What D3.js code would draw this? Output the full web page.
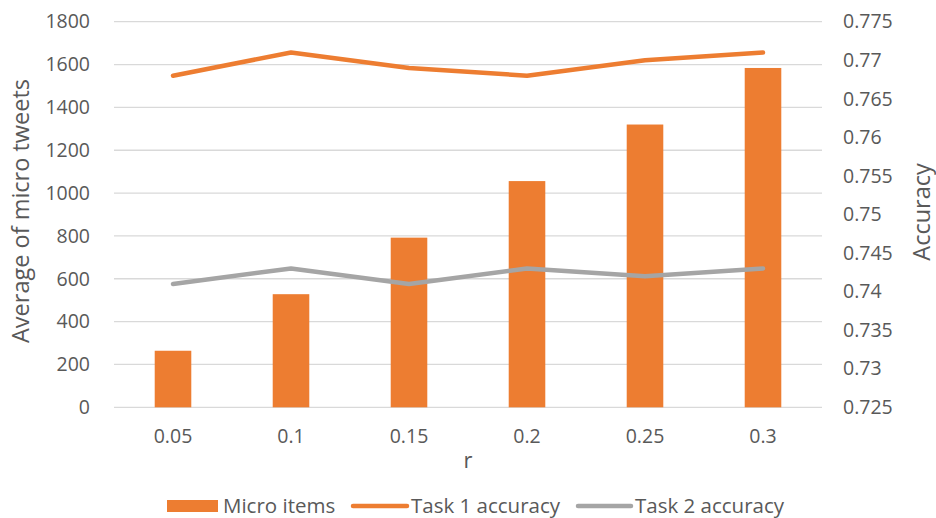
<!DOCTYPE html>
<html>
<head>
<meta charset="utf-8">
<script src="https://cdn.jsdelivr.net/npm/d3@7/dist/d3.min.js"></script>
<style>
  html, body { margin: 0; padding: 0; background: #ffffff; }
  svg text { font-family: "Open Sans", "Noto Sans", sans-serif; fill: #595959; }
</style>
</head>
<body>
<svg id="chart" width="936" height="518"></svg>
<script>
// r values on the category axis
const categories = ["0.05", "0.1", "0.15", "0.2", "0.25", "0.3"];
// Average number of micro items per r
const microItems = [264, 528, 792, 1056, 1320, 1584];
// Accuracy for the two tasks
const task1Accuracy = [0.768, 0.771, 0.769, 0.768, 0.770, 0.771];
const task2Accuracy = [0.741, 0.743, 0.741, 0.743, 0.742, 0.743];
// Axis ticks
const leftTicks = [0, 200, 400, 600, 800, 1000, 1200, 1400, 1600, 1800];
const rightTicks = [0.725, 0.73, 0.735, 0.74, 0.745, 0.75, 0.755, 0.76, 0.765, 0.77, 0.775];

const ORANGE = "#ED7D31";
const GRAY = "#A5A5A5";
const GRID = "#D9D9D9";
const TEXT = "#595959";

const svg = d3.select("#chart");
const plot = { left: 114, right: 822, top: 21.7, bottom: 407.3 };

const x = d3.scaleBand().domain(categories).range([plot.left, plot.right]).paddingInner(0.69).paddingOuter(0.345);
const yL = d3.scaleLinear().domain([0, 1800]).range([plot.bottom, plot.top]);
const yR = d3.scaleLinear().domain([0.725, 0.775]).range([plot.bottom, plot.top]);
const xc = d => x(d) + x.bandwidth() / 2;

// Horizontal gridlines follow the left axis
svg.append("g").selectAll("line").data(leftTicks).join("line")
  .attr("x1", plot.left).attr("x2", plot.right)
  .attr("y1", d => yL(d)).attr("y2", d => yL(d))
  .attr("stroke", GRID).attr("stroke-width", 1.3);

// Left axis
const leftAxis = svg.append("g").attr("transform", `translate(${plot.left},0)`)
  .call(d3.axisLeft(yL).tickValues(leftTicks).tickSize(0).tickPadding(24).tickFormat(d3.format("d")));
leftAxis.select(".domain").remove();
leftAxis.selectAll("text").style("font-size", "19.5px").attr("fill", TEXT);

// Right axis
const rightAxis = svg.append("g").attr("transform", `translate(${plot.right},0)`)
  .call(d3.axisRight(yR).tickValues(rightTicks).tickSize(0).tickPadding(21).tickFormat(d => String(+d.toFixed(3))));
rightAxis.select(".domain").remove();
rightAxis.selectAll("text").style("font-size", "19.5px").attr("fill", TEXT);

// Category axis
const bottomAxis = svg.append("g").attr("transform", `translate(0,${plot.bottom})`)
  .call(d3.axisBottom(x).tickSize(0).tickPadding(22));
bottomAxis.select(".domain").remove();
bottomAxis.selectAll("text").style("font-size", "19.5px").attr("fill", TEXT);

// Bars
svg.append("g").selectAll("rect").data(categories).join("rect")
  .attr("x", d => x(d))
  .attr("width", x.bandwidth())
  .attr("y", (d, i) => yL(microItems[i]))
  .attr("height", (d, i) => yL(0) - yL(microItems[i]))
  .attr("fill", ORANGE);

// Accuracy lines
const lineOf = vals => d3.line().x((d, i) => xc(categories[i])).y(d => yR(d))(vals);
svg.append("path").attr("d", lineOf(task1Accuracy))
  .attr("fill", "none").attr("stroke", ORANGE).attr("stroke-width", 4.5)
  .attr("stroke-linecap", "round").attr("stroke-linejoin", "round");
svg.append("path").attr("d", lineOf(task2Accuracy))
  .attr("fill", "none").attr("stroke", GRAY).attr("stroke-width", 4.5)
  .attr("stroke-linecap", "round").attr("stroke-linejoin", "round");

// Axis titles
svg.append("text").attr("transform", "translate(29,211) rotate(-90)")
  .attr("text-anchor", "middle").style("font-size", "23.5px").text("Average of micro tweets");
svg.append("text").attr("transform", "translate(930,212) rotate(-90)")
  .attr("text-anchor", "middle").style("font-size", "23.5px").text("Accuracy");
svg.append("text").attr("x", (plot.left + plot.right) / 2).attr("y", 468)
  .attr("text-anchor", "middle").style("font-size", "22px").text("r");

// Legend
const legend = svg.append("g");
const ly = 506;
legend.append("rect").attr("x", 167).attr("y", ly - 6).attr("width", 51).attr("height", 12).attr("fill", ORANGE);
legend.append("text").attr("x", 223).attr("y", ly).attr("dy", "0.35em").style("font-size", "20.5px").text("Micro items");
legend.append("line").attr("x1", 353).attr("x2", 407).attr("y1", ly).attr("y2", ly)
  .attr("stroke", ORANGE).attr("stroke-width", 4.5).attr("stroke-linecap", "round");
legend.append("text").attr("x", 411).attr("y", ly).attr("dy", "0.35em").style("font-size", "20.5px").text("Task 1 accuracy");
legend.append("line").attr("x1", 578).attr("x2", 631).attr("y1", ly).attr("y2", ly)
  .attr("stroke", GRAY).attr("stroke-width", 4.5).attr("stroke-linecap", "round");
legend.append("text").attr("x", 635).attr("y", ly).attr("dy", "0.35em").style("font-size", "20.5px").text("Task 2 accuracy");
</script>
</body>
</html>
